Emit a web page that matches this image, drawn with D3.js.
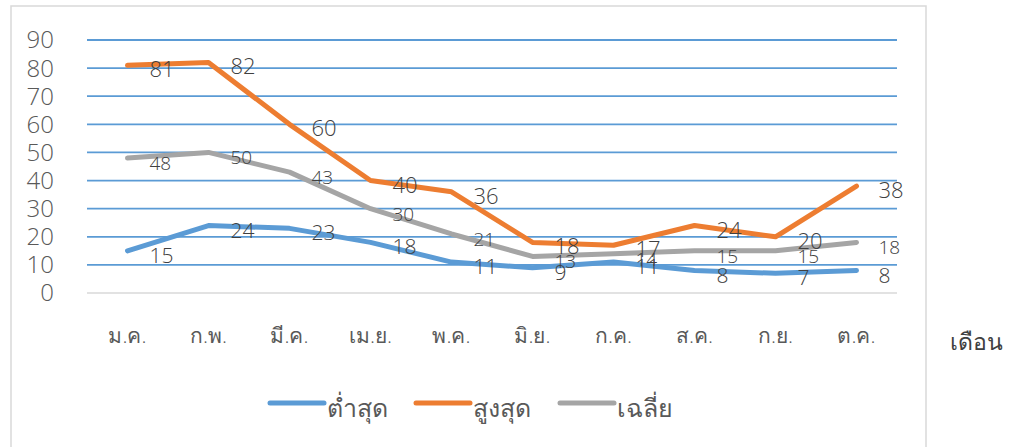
<!DOCTYPE html>
<html>
<head>
<meta charset="utf-8">
<script src="https://cdn.jsdelivr.net/npm/d3@7"></script>
<style>
  body { margin: 0; background: #fff; }
  text { font-family: "Open Sans", "Noto Sans", "DejaVu Sans", sans-serif; font-weight: 300; }
</style>
</head>
<body>
<script>
// chart data
var months = ["ม.ค.", "ก.พ.", "มี.ค.", "เม.ย.", "พ.ค.", "มิ.ย.", "ก.ค.", "ส.ค.", "ก.ย.", "ต.ค."];
var minValues = [15, 24, 23, 18, 11, 9, 11, 8, 7, 8];
var maxValues = [81, 82, 60, 40, 36, 18, 17, 24, 20, 38];
var avgValues = [48, 50, 43, 30, 21, 13, 14, 15, 15, 18];
var seriesNames = ["ต่ำสุด", "สูงสุด", "เฉลี่ย"];
var yTicks = [0, 10, 20, 30, 40, 50, 60, 70, 80, 90];
var xTitle = "เดือน";

var colors = ["#5b9bd5", "#ed7d31", "#a5a5a5"];
var labelSizes = [21, 22, 19];

var svgWidth = 1010;
var svgHeight = 447;

var svg = d3.select("body")
  .append("svg")
  .attr("width", svgWidth)
  .attr("height", svgHeight);

// chart border (bottom runs off the picture)
svg.append("rect")
  .attr("x", 11)
  .attr("y", 6)
  .attr("width", 915)
  .attr("height", 460)
  .attr("fill", "none")
  .attr("stroke", "#d9d9d9")
  .attr("stroke-width", 1.5);

// scales
var xScale = d3.scaleBand()
  .domain(months)
  .range([87, 897]);

var yScale = d3.scaleLinear()
  .domain([0, 90])
  .range([293, 40]);

function cx(i) { return xScale(months[i]) + xScale.bandwidth() / 2; }

// gridlines
svg.append("g")
  .selectAll("line")
  .data(yTicks.filter(d => d > 0))
  .enter().append("line")
  .attr("x1", 87)
  .attr("x2", 897)
  .attr("y1", d => yScale(d))
  .attr("y2", d => yScale(d))
  .attr("stroke", "#5b9bd5")
  .attr("stroke-width", 1.8);

// x axis line
svg.append("line")
  .attr("x1", 87)
  .attr("x2", 897)
  .attr("y1", yScale(0))
  .attr("y2", yScale(0))
  .attr("stroke", "#d9d9d9")
  .attr("stroke-width", 1.5);

// y tick labels
svg.append("g")
  .selectAll("text")
  .data(yTicks)
  .enter().append("text")
  .attr("x", 54)
  .attr("y", d => yScale(d) + 2)
  .attr("text-anchor", "end")
  .attr("dominant-baseline", "middle")
  .attr("font-size", 24)
  .attr("fill", "#595959")
  .text(d => d);

// x tick labels
svg.append("g")
  .selectAll("text")
  .data(months)
  .enter().append("text")
  .attr("x", d => xScale(d) + xScale.bandwidth() / 2)
  .attr("y", 343)
  .attr("text-anchor", "middle")
  .attr("font-size", 21)
  .attr("fill", "#595959")
  .text(d => d);

svg.append("text")
  .attr("x", 950)
  .attr("y", 350)
  .attr("font-size", 23)
  .attr("fill", "#404040")
  .text(xTitle);

// the three lines
var allSeries = [minValues, maxValues, avgValues];

var line = d3.line()
  .x((d, i) => cx(i))
  .y(d => yScale(d));

// draw in order grey, blue, orange like the reference
[2, 0, 1].forEach(function(s) {
  svg.append("path")
    .datum(allSeries[s])
    .attr("d", line)
    .attr("fill", "none")
    .attr("stroke", colors[s])
    .attr("stroke-width", 5)
    .attr("stroke-linecap", "round")
    .attr("stroke-linejoin", "round");
});

// data labels, to the right of each point
allSeries.forEach(function(vals, s) {
  svg.append("g")
    .selectAll("text")
    .data(vals)
    .enter().append("text")
    .attr("x", (d, i) => cx(i) + 22)
    .attr("y", d => yScale(d) + 12)
    .attr("font-size", labelSizes[s])
    .attr("fill", "#404040")
    .text(d => d);
});

// legend
var legendX = [270, 416, 560];
seriesNames.forEach(function(name, s) {
  svg.append("line")
    .attr("x1", legendX[s])
    .attr("x2", legendX[s] + 54)
    .attr("y1", 403)
    .attr("y2", 403)
    .attr("stroke", colors[s])
    .attr("stroke-width", 5)
    .attr("stroke-linecap", "round");
  svg.append("text")
    .attr("x", legendX[s] + 57)
    .attr("y", 417)
    .attr("font-size", 25)
    .attr("fill", "#595959")
    .text(name);
});
</script>
</body>
</html>
